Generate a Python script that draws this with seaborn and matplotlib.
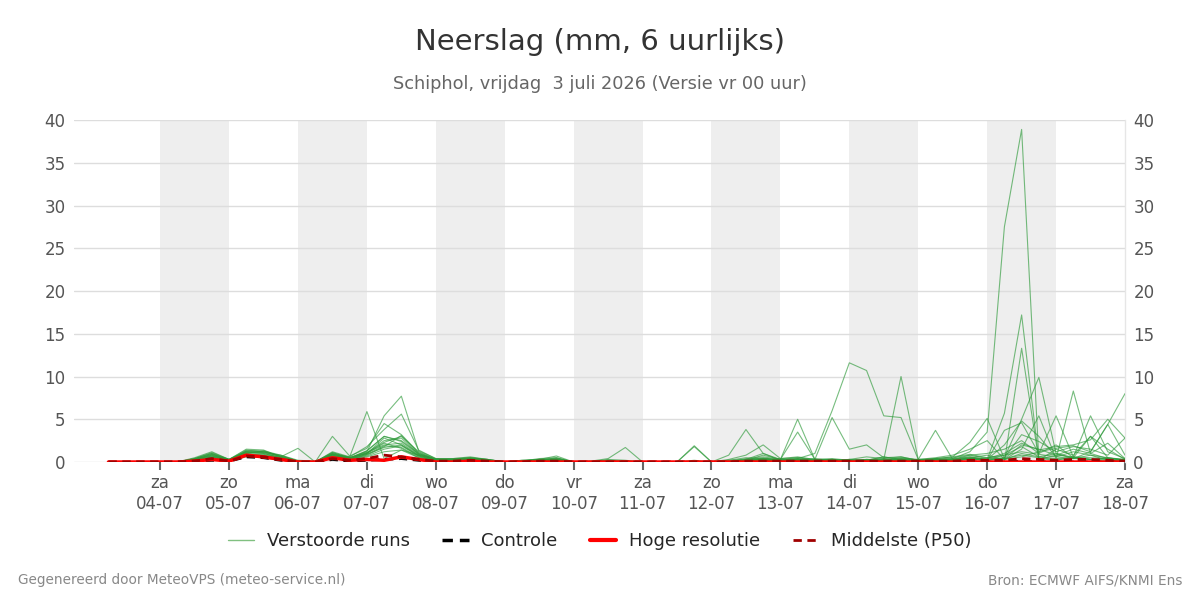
import numpy as np
import pandas as pd
import matplotlib
matplotlib.use("Agg")
import matplotlib.pyplot as plt
import seaborn as sns
from matplotlib.lines import Line2D

# ---------------- data ----------------
# 6-hourly steps from 03-07 06:00 (x in days since 03-07 00:00)
n_steps = 60
day_ticks = list(range(1, 16))
day_names = ["za", "zo", "ma", "di", "wo", "do", "vr", "za", "zo", "ma", "di", "wo", "do", "vr", "za"]
day_dates = ["04-07", "05-07", "06-07", "07-07", "08-07", "09-07", "10-07", "11-07",
             "12-07", "13-07", "14-07", "15-07", "16-07", "17-07", "18-07"]
shaded_days = [1, 3, 5, 7, 9, 11, 13]

m01 = [0,0,0,0, 0,0.3,0.9,0.2, 1.1,1.0,0.5,0.1, 0,0.9,0.4,1.0, 2.2,1.6,0.5,0.2, 0.2,0.3,0.1,0, 0,0.2,0.3,0, 0,0,0.1,0, 0,0,0,0, 0,0.1,0.4,0.2, 0.1,0,0.2,0.1, 0,0.1,0.3,0.1, 0.2,0.4,1.2,3.5, 27.5,38.9,0.4,0.2, 0.6,0.3,0.2,0.1]
m02 = [0,0,0,0, 0,0.5,1.2,0.3, 1.4,1.2,0.7,0.1, 0,1.0,0.5,1.3, 3.0,2.4,0.9,0.3, 0.3,0.5,0.2,0, 0.1,0.3,0.2,0, 0,0.1,0,0, 0,0,0.2,0, 0,0.2,0.8,0.3, 0.5,0.2,0.1,0.3, 0.2,0.6,0.3,0.2, 0.4,0.3,0.6,0.3, 5.7,17.2,0.3,0.8, 1.5,1.0,2.2,0.4]
m03 = [0,0,0,0, 0,0.2,0.6,0.2, 0.9,0.8,0.4,0, 0,0.7,0.3,0.8, 1.8,3.1,1.0,0.3, 0.3,0.4,0.2,0, 0,0.1,0.2,0, 0,0,0,0, 0,0,0,0, 0.1,0.3,1.0,0.3, 0.2,0.4,0.3,0.1, 0.1,0.2,0.5,0.2, 0.3,0.2,0.5,0.1, 0,13.3,0.2,1.5, 0.8,3.0,0.5,0.2]
m04 = [0,0,0,0, 0,0.4,1.0,0.3, 1.2,1.1,0.8,0.2, 0.1,0.9,0.6,5.9, 0.4,1.4,0.8,0.3, 0.4,0.5,0.3,0, 0.2,0.3,0.4,0, 0.1,0.2,0.1,0, 0,0,0.1,0, 0.2,0.5,0.3,0.2, 0.4,1.0,6.0,11.6, 10.7,5.4,5.2,0.3, 0.5,0.8,1.5,2.5, 0.3,1.0,0.6,0.4, 0.5,0.3,0.2,0.1]
m05 = [0,0,0,0, 0,0.3,0.8,0.2, 1.3,1.3,0.6,1.6, 0,1.1,0.5,1.2, 5.4,7.7,1.3,0.4, 0.3,0.4,0.3,0, 0.1,0.2,0.5,0, 0,0,0,0, 0,0,0,0, 0,0.2,0.5,0.1, 0.3,0.2,0.4,0.2, 0.1,0.3,10.0,0.3, 0.4,0.6,0.9,0.5, 0.8,1.2,0.9,0.6, 1.2,0.8,0.5,0.3]
m06 = [0,0,0,0, 0,0.2,0.5,0.1, 0.8,0.7,0.4,0, 0,3.0,0.7,1.6, 4.5,3.2,1.1,0.3, 0.2,0.3,0.2,0, 0.1,0.3,0.7,0, 0,0.1,0,0, 0,0,0,0, 0.8,3.8,1.0,0.2, 0.3,0.2,0.1,0.3, 0.2,0.4,0.6,0.2, 0.3,0.2,0.4,0.3, 2.0,4.8,3.0,0.6, 0.4,0.3,0.5,0.2]
m07 = [0,0,0,0, 0,0.4,1.1,0.3, 1.5,1.4,0.6,0.1, 0,1.2,0.6,1.8, 3.8,5.6,1.4,0.4, 0.4,0.6,0.3,0, 0.2,0.3,0.3,0, 0,0.3,0.2,0, 0,0,0,0, 0.2,0.3,0.4,0.3, 5.0,0.3,0.2,0.1, 0.3,0.2,0.4,0.2, 0.4,0.6,2.3,5.1, 0.4,2.0,1.5,0.8, 0.6,0.5,0.4,0.3]
m08 = [0,0,0,0, 0,0.3,0.7,0.2, 1.0,0.9,0.5,0, 0,0.8,0.4,1.0, 2.5,2.8,0.9,0.3, 0.2,0.3,0.1,0, 0,0.1,0.2,0, 0,0,0,0, 0,0,1.8,0, 0,0.4,0.6,0.3, 3.5,0.3,5.2,1.5, 2.0,0.5,0.6,0.2, 0.3,0.2,0.3,0.5, 0.3,1.5,5.4,0.4, 8.3,1.0,0.4,0.2]
m09 = [0,0,0,0, 0,0.2,0.4,0.1, 0.7,0.6,0.3,0, 0,0.6,0.3,0.7, 1.5,1.9,0.7,0.2, 0.2,0.4,0.2,0, 0.1,0.2,0.3,0, 0.1,0.4,1.7,0, 0,0,0,0, 0,0.1,0.2,0.1, 0.1,0.1,0.3,0.2, 0.2,0.1,0.2,0.1, 0.2,0.3,0.4,0.2, 0.5,5.0,9.9,1.0, 0.5,0.3,0.4,0.2]
m10 = [0,0,0,0, 0,0.3,0.9,0.3, 1.2,1.0,0.5,0.1, 0,0.9,0.5,1.1, 2.0,2.2,0.8,0.3, 0.3,0.5,0.3,0, 0.1,0.4,0.5,0, 0,0.1,0,0, 0,0,1.9,0, 0,0.2,0.3,0.2, 0.4,0.2,0.3,0.1, 0.2,0.3,0.1,0.2, 0.3,0.5,0.8,1.0, 1.5,2.5,1.0,5.4, 0.6,5.4,1.2,0.4]
m11 = [0,0,0,0, 0,0.4,1.0,0.2, 1.3,1.2,0.7,0.1, 0,1.0,0.4,1.3, 3.0,2.5,1.0,0.3, 0.3,0.4,0.2,0, 0.1,0.2,0.4,0, 0,0.2,0.1,0, 0,0,0.1,0, 0.3,0.8,2.0,0.4, 0.6,0.3,0.2,0.1, 0.3,0.2,0.4,0.3, 0.2,0.4,0.6,0.3, 0.4,0.8,0.5,0.3, 0.4,1.2,4.4,8.0]
m12 = [0,0,0,0, 0,0.2,0.6,0.2, 0.9,0.8,0.4,0.1, 0,0.8,0.3,0.9, 1.7,2.0,0.7,0.2, 0.2,0.3,0.2,0, 0,0.2,0.3,0, 0,0,0,0, 0,0,0,0, 0,0.1,0.3,0.2, 0.2,0.1,0.2,0.1, 0.1,0.2,0.3,0.3, 3.7,0.3,0.8,0.4, 1.0,2.2,1.4,1.8, 2.0,2.6,5.0,2.8]
m13 = [0,0,0,0, 0,0.3,0.7,0.3, 1.1,1.2,0.6,0.1, 0,1.1,0.5,1.0, 2.8,2.0,0.8,0.3, 0.2,0.4,0.2,0, 0.1,0.2,0.2,0, 0,0,0,0, 0,0,0,0, 0,0.2,0.4,0.2, 0.3,0.2,0.1,0.2, 0.2,0.6,0.2,0.1, 0.1,0.2,0.4,0.2, 3.7,4.6,1.0,2.0, 0.5,3.0,1.5,0.3]
m14 = [0,0,0,0, 0,0.1,0.5,0.1, 0.6,0.5,0.2,0, 0,0.5,0.2,0.6, 1.2,1.4,0.5,0.2, 0.1,0.2,0.1,0, 0,0.1,0.2,0, 0,0,0,0, 0,0,0,0, 0,0.1,0.2,0.1, 0.2,0.1,0.2,0.1, 0.1,0.1,0.2,0.1, 0.2,0.1,0.3,0.2, 0.5,3.2,2.4,1.2, 1.8,1.5,0.8,2.8]
m15 = [0,0,0,0, 0,0.3,0.8,0.2, 1.2,1.1,0.5,0, 0,0.8,0.4,1.1, 2.3,3.0,1.2,0.3, 0.3,0.4,0.2,0, 0.1,0.2,0.3,0, 0,0,0,0, 0,0,0,0, 0,0.2,0.3,0.4, 0.5,0.3,0.2,0.3, 0.6,0.4,0.2,0.1, 0.3,0.2,0.5,0.8, 0.3,0.6,1.2,1.6, 1.9,1.2,4.4,0.8]
m16 = [0,0,0,0, 0,0.2,0.5,0.2, 1.0,1.3,0.8,0.1, 0,0.7,0.3,0.9, 1.9,1.7,0.6,0.2, 0.2,0.3,0.2,0, 0,0.1,0.2,0, 0,0.1,0,0, 0,0,0,0, 0,0.1,0.2,0.1, 0.1,0.2,0.1,0.1, 0.1,0.1,0.2,0.2, 0.2,0.3,0.4,0.3, 0.8,1.8,0.6,1.0, 0.4,0.8,0.2,0.1]
members = [m01, m02, m03, m04, m05, m06, m07, m08, m09, m10, m11, m12, m13, m14, m15, m16]

hres = [0,0,0,0, 0,0.1,0.3,0.1, 0.8,0.6,0.3,0, 0,0.5,0.2,0.3, 0.2,0.6,0.3,0, 0,0.1,0,0, 0,0,0,0, 0,0,0,0, 0,0,0,0, 0,0,0,0, 0,0,0,0, 0,0,0,0, 0,0,0,0, 0,0,0,0, 0,0,0,0]
control = [0,0,0,0, 0,0.1,0.2,0.1, 0.6,0.5,0.2,0, 0,0.3,0.1,0.2, 0.3,0.4,0.2,0, 0,0.1,0,0, 0,0,0,0, 0,0,0,0, 0,0,0,0, 0,0,0,0, 0,0,0,0, 0,0,0,0, 0,0,0,0, 0,0.1,0,0, 0,0,0,0]
p50 = [0,0,0,0, 0,0.1,0.4,0.1, 0.7,0.6,0.3,0, 0,0.4,0.2,0.4, 0.8,0.6,0.3,0.1, 0.1,0.2,0.1,0, 0,0.1,0.1,0, 0,0,0,0, 0,0,0,0, 0,0.1,0.1,0.1, 0.1,0.1,0.1,0.1, 0.1,0.1,0.1,0.1, 0.1,0.1,0.2,0.2, 0.2,0.4,0.3,0.2, 0.3,0.3,0.2,0.1]

x_vals = [0.25 + 0.25 * i for i in range(n_steps)]

# ---------------- plot ----------------
sns.set_theme(style="white")
plt.rcParams['font.family'] = ['DejaVu Sans']

fig = plt.figure(figsize=(12, 6), dpi=100)
ax = fig.add_axes([74/1200, 1 - 462/600, (1125 - 74)/1200, (462 - 120)/600])

for d in shaded_days:
    ax.axvspan(d, d + 1, color="#eeeeee", lw=0, zorder=0)

rows = []
for k, m in enumerate(members):
    for x, v in zip(x_vals, m):
        rows.append({"x": x, "v": v, "member": k})
df = pd.DataFrame(rows)
sns.lineplot(data=df, x="x", y="v", units="member", estimator=None, ax=ax,
             color="#2e9a3a", alpha=0.65, lw=0.8, zorder=3, legend=False)

sns.lineplot(x=x_vals, y=control, ax=ax, color="black", lw=2, linestyle=(0, (3, 2)), zorder=4)
sns.lineplot(x=x_vals, y=hres, ax=ax, color="#ff0000", lw=2.5, zorder=5)
sns.lineplot(x=x_vals, y=p50, ax=ax, color="#a00000", lw=2, linestyle=(0, (3, 2)), zorder=6)

ax.set_xlim(-0.25, 15)
ax.set_ylim(0, 40)
ax.set_yticks(range(0, 41, 5))
ax.set_xticks(day_ticks)
ax.set_xticklabels([f"{n}\n{d}" for n, d in zip(day_names, day_dates)])
ax.grid(axis="y", color="#dddddd", lw=1)
ax.grid(axis="x", visible=False)
ax.set_axisbelow(True)
for s in ["left", "top", "bottom"]:
    ax.spines[s].set_visible(False)
ax.spines["right"].set_color("#e6e6e6")
ax.spines["right"].set_linewidth(1)
ax.tick_params(axis="y", length=0, labelsize=12, labelcolor="#555555", labelright=True, pad=6)
ax.tick_params(axis="x", length=6, width=1.5, color="#666666", direction="out",
               labelsize=12, labelcolor="#555555", bottom=True, pad=3)
ax.set_xlabel("")
ax.set_ylabel("")

fig.text(0.5, 1 - 42/600, "Neerslag (mm, 6 uurlijks)", ha="center", va="center",
         fontsize=21, color="#333333")
fig.text(0.5, 1 - 84/600, "Schiphol, vrijdag  3 juli 2026 (Versie vr 00 uur)", ha="center",
         va="center", fontsize=12.8, color="#666666")
fig.text(18/1200, 1 - 580/600, "Gegenereerd door MeteoVPS (meteo-service.nl)", ha="left",
         va="center", fontsize=9.8, color="#888888")
fig.text(1182/1200, 1 - 580/600, "Bron: ECMWF AIFS/KNMI Ens", ha="right",
         va="center", fontsize=9.8, color="#888888")

handles = [
    Line2D([0], [0], color="#80c080", lw=1),
    Line2D([0], [0], color="black", lw=2.5, linestyle=(0, (3, 2))),
    Line2D([0], [0], color="#ff0000", lw=3),
    Line2D([0], [0], color="#a00000", lw=2, linestyle=(0, (3, 2))),
]
labels = ["Verstoorde runs", "Controle", "Hoge resolutie", "Middelste (P50)"]
fig.legend(handles, labels, loc="center", bbox_to_anchor=(0.5, 1 - 541/600), ncol=4,
           frameon=False, fontsize=13, handlelength=1.45, columnspacing=1.8, handletextpad=0.7)

fig.savefig("out.png", dpi=100)
